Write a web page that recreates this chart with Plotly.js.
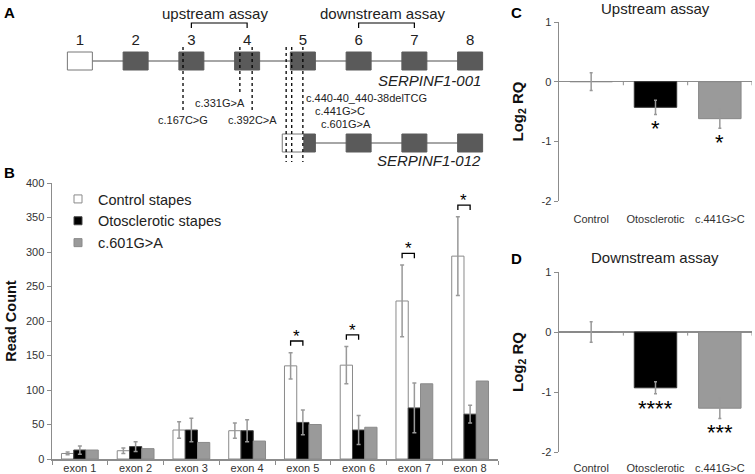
<!DOCTYPE html>
<html><head><meta charset="utf-8">
<script src="https://cdn.plot.ly/plotly-3.0.1.min.js"></script>
<style>html,body{margin:0;padding:0;background:#fff}</style>
</head><body><div id="chart" style="width:755px;height:474px"></div>
<script>
// ---------------- data ----------------
// Panel B: RNA-seq read counts per exon
const exonNames = ['exon 1','exon 2','exon 3','exon 4','exon 5','exon 6','exon 7','exon 8'];
const controlCounts = [8, 12, 42, 41, 135, 136, 229, 294];
const controlErr    = [2, 4, 12, 11, 19, 27, 52, 57];
const otoCounts     = [13, 18, 42, 41, 53, 42, 74, 65];
const otoErr        = [6, 7, 17, 16, 18, 21, 36, 13];
const mutCounts     = [13, 15, 24, 26, 50, 46, 109, 113];
const exonSig       = ['', '', '', '', '*', '*', '*', '*'];
const seriesNames   = ['Control stapes', 'Otosclerotic stapes', 'c.601G>A'];

// Panels C and D: qPCR log2 RQ
const groups   = ['Control', 'Otosclerotic', 'c.441G>C'];
const upRQ     = [0, -0.43, -0.62];
const upErr    = [0.15, 0.12, 0.16];
const upSig    = ['', '*', '*'];
const downRQ   = [0, -0.93, -1.27];
const downErr  = [0.17, 0.10, 0.17];
const downSig  = ['', '****', '***'];

// Panel A: gene schematic
const exonLabels   = ['1','2','3','4','5','6','7','8'];
const variantNames = ['c.167C>G','c.331G>A','c.392C>A','c.440-40_440-38delTCG','c.441G>C','c.601G>A'];
const variantPos   = [1.85, 2.87, 3.09, 3.70, 3.80, 4.00]; // in exon-index units

// ---------------- layout helpers ----------------
const W = 755, H = 474;
const fx = p => p / W;
const fy = p => 1 - p / H;
const FONT = 'Liberation Sans, Arial, sans-serif';
const AX = '#8c8c8c';
const TXT = '#222';
const idx = exonNames.map((_, i) => i);

const traces = [];

// ----- Panel B bars -----
const barColors = ['#ffffff', '#000000', '#9a9a9a'];
const barLines = ['#8a8a8a', '#444', '#8a8a8a'];
const barVals = [controlCounts, otoCounts, mutCounts];
const barErrs = [controlErr, otoErr, null];
for (let s = 0; s < 3; s++) {
  const t = {
    type: 'bar', x: idx, y: barVals[s], name: seriesNames[s],
    xaxis: 'x', yaxis: 'y', showlegend: false,
    marker: {color: barColors[s], line: {color: barLines[s], width: 1}}
  };
  if (barErrs[s]) t.error_y = {type: 'data', array: barErrs[s], visible: true, color: '#999', thickness: 1.5, width: 2};
  traces.push(t);
}
// legend entries (small squares)
for (let s = 0; s < 3; s++) {
  traces.push({
    type: 'scatter', mode: 'markers', x: [null], y: [null], name: seriesNames[s],
    xaxis: 'x', yaxis: 'y',
    marker: {symbol: 'square', size: 8, color: barColors[s], line: {color: barLines[s], width: 1}}
  });
}
// significance brackets in B
const barW = (1 - 0.34) / 3;
const bx = [], by = [];
const bracketY = [];
idx.forEach(i => {
  if (!exonSig[i]) return;
  const yb = controlCounts[i] + controlErr[i] + 17;
  bracketY[i] = yb;
  bx.push(i - barW, i - barW, i, i, null);
  by.push(yb - 7, yb, yb, yb - 7, null);
});
traces.push({type: 'scatter', mode: 'lines', x: bx, y: by, xaxis: 'x', yaxis: 'y',
  line: {color: '#000', width: 1.3}, hoverinfo: 'skip', showlegend: false});

// ----- Panels C, D -----
const rqColors = ['#ffffff', '#000000', '#9a9a9a'];
traces.push({type: 'bar', x: [0,1,2], y: upRQ, xaxis: 'x2', yaxis: 'y2', showlegend: false,
  marker: {color: rqColors, line: {color: ['#888','#333','#888'], width: 1}},
  error_y: {type: 'data', array: upErr, visible: true, color: '#999', thickness: 1.5, width: 1.5}});
traces.push({type: 'bar', x: [0,1,2], y: downRQ, xaxis: 'x3', yaxis: 'y3', showlegend: false,
  marker: {color: rqColors, line: {color: ['#888','#333','#888'], width: 1}},
  error_y: {type: 'data', array: downErr, visible: true, color: '#999', thickness: 1.5, width: 1.5}});

// ----- Panel A: exon numbers -----
traces.push({type: 'scatter', mode: 'text', x: idx, y: exonLabels.map(() => 41), text: exonLabels,
  xaxis: 'x4', yaxis: 'y4', textfont: {family: FONT, size: 15, color: TXT}, hoverinfo: 'skip', showlegend: false});

// ---------------- shapes & annotations ----------------
const shapes = [];
const ann = [];
const exHalf = 0.224;
const dark = '#5a5a5a';
// transcript 001
shapes.push({type: 'line', xref: 'x4', yref: 'y4', x0: 0, x1: 7, y0: 61, y1: 61, line: {color: '#888', width: 1.5}});
idx.forEach(i => {
  shapes.push({type: 'rect', xref: 'x4', yref: 'y4', x0: i - exHalf, x1: i + exHalf, y0: 52, y1: 70,
    fillcolor: i === 0 ? '#fff' : dark, line: {color: i === 0 ? '#777' : dark, width: 1}});
});
// transcript 012
shapes.push({type: 'line', xref: 'x4', yref: 'y4', x0: 4, x1: 7, y0: 143, y1: 143, line: {color: '#888', width: 1.5}});
idx.slice(4).forEach(i => {
  if (i === 4) {
    shapes.push({type: 'rect', xref: 'x4', yref: 'y4', x0: 3.63, x1: 4.02, y0: 134, y1: 152,
      fillcolor: '#fff', line: {color: '#777', width: 1}});
    shapes.push({type: 'rect', xref: 'x4', yref: 'y4', x0: 4.02, x1: i + exHalf, y0: 134, y1: 152,
      fillcolor: dark, line: {color: dark, width: 1}});
  } else {
    shapes.push({type: 'rect', xref: 'x4', yref: 'y4', x0: i - exHalf, x1: i + exHalf, y0: 134, y1: 152,
      fillcolor: dark, line: {color: dark, width: 1}});
  }
});
// assay brackets
const assays = [{name: 'upstream assay', a: 2, b: 3}, {name: 'downstream assay', a: 5, b: 6}];
assays.forEach(as => {
  shapes.push({type: 'path', xref: 'x4', yref: 'y4',
    path: `M${as.a},28 L${as.a},23 L${as.b},23 L${as.b},28`, line: {color: '#000', width: 1.2}});
  ann.push({xref: 'x4', yref: 'y4', x: (as.a + as.b) / 2, y: 13, xshift: -4, text: as.name, showarrow: false,
    font: {family: FONT, size: 15, color: TXT}, xanchor: 'center', yanchor: 'middle'});
});
// variant dotted lines + labels
const varBottom = [110, 94, 110, 162, 162, 162];
const varLabel = [
  {xa: 'center', y: 120, dx: 0},
  {xa: 'right', y: 103, dx: 7},
  {xa: 'center', y: 120, dx: 0},
  {xa: 'left', y: 98, dx: 18},
  {xa: 'left', y: 111, dx: 21},
  {xa: 'left', y: 124, dx: 16}
];
variantPos.forEach((p, k) => {
  shapes.push({type: 'line', xref: 'x4', yref: 'y4', x0: p, x1: p, y0: 47, y1: varBottom[k],
    line: {color: '#000', width: 1.3, dash: 'dot'}});
  ann.push({xref: 'x4', yref: 'y4', x: p, y: varLabel[k].y, xshift: varLabel[k].dx, text: variantNames[k],
    showarrow: false, xanchor: varLabel[k].xa, yanchor: 'middle', font: {family: FONT, size: 11, color: TXT}});
});
// transcript names
ann.push({xref: 'x4', yref: 'y4', x: 7 + exHalf, y: 80, text: '<i>SERPINF1-001</i>', showarrow: false,
  xanchor: 'right', yanchor: 'middle', font: {family: FONT, size: 15, color: TXT}});
ann.push({xref: 'x4', yref: 'y4', x: 7 + exHalf, y: 160, text: '<i>SERPINF1-012</i>', showarrow: false,
  xanchor: 'right', yanchor: 'middle', font: {family: FONT, size: 15, color: TXT}});

// B significance stars
idx.forEach(i => {
  if (!exonSig[i]) return;
  ann.push({xref: 'x', yref: 'y', x: i - barW / 2, y: bracketY[i], text: exonSig[i], showarrow: false,
    xanchor: 'center', yanchor: 'bottom', yshift: -7, font: {family: FONT, size: 17, color: '#000'}});
});
// C/D stars
[[upRQ, upErr, upSig, 'x2', 'y2'], [downRQ, downErr, downSig, 'x3', 'y3']].forEach(([v, e, s, xr, yr]) => {
  s.forEach((txt, i) => {
    if (!txt) return;
    ann.push({xref: xr, yref: yr, x: i, y: v[i] - e[i], text: txt, showarrow: false,
      xanchor: 'center', yanchor: 'top', font: {family: FONT, size: 22, color: '#000'}});
  });
  // small tick marks on zero line at category boundaries
  [0.5, 1.5, 2.5].forEach(b => {
    shapes.push({type: 'line', xref: xr, yref: yr, x0: b, x1: b, y0: 0, y1: -0.06, line: {color: AX, width: 1}});
  });
});
// panel letters and titles
const letters = [['A', 9, 12], ['B', 9, 172], ['C', 516, 12], ['D', 516, 258]];
letters.forEach(([t, x, y]) => ann.push({xref: 'paper', yref: 'paper', x: fx(x), y: fy(y), text: '<b>' + t + '</b>',
  showarrow: false, xanchor: 'center', yanchor: 'middle', font: {family: FONT, size: 15, color: '#000'}}));
ann.push({xref: 'paper', yref: 'paper', x: fx(655), y: fy(9), text: 'Upstream assay', showarrow: false,
  xanchor: 'center', yanchor: 'middle', font: {family: FONT, size: 15, color: TXT}});
ann.push({xref: 'paper', yref: 'paper', x: fx(655), y: fy(257), text: 'Downstream assay', showarrow: false,
  xanchor: 'center', yanchor: 'middle', font: {family: FONT, size: 15, color: TXT}});

// ---------------- axes ----------------
const tickFont = {family: FONT, size: 11, color: '#333'};
const rqTicks = {tickvals: [1, 0, -1, -2], ticktext: ['1', '0', '-1', '-2']};
function rqY(top, bottom) {
  return {domain: [fy(bottom), fy(top)], range: [-2, 1], tickvals: rqTicks.tickvals, ticktext: rqTicks.ticktext,
    ticks: 'outside', ticklen: 4, tickcolor: AX, showline: true, linecolor: AX, linewidth: 1.5,
    zeroline: true, zerolinecolor: AX, zerolinewidth: 1.5, showgrid: false, tickfont: tickFont, fixedrange: true,
    title: {text: '<b>Log<sub>2</sub> RQ</b>', font: {family: FONT, size: 15, color: '#111'}, standoff: 14}};
}
function rqX(anchor, standoff) {
  return {domain: [fx(559), fx(752)], range: [-0.5, 2.5], anchor: anchor, tickvals: [0, 1, 2], ticktext: groups,
    ticks: '', showline: false, showgrid: false, zeroline: false, tickfont: tickFont, ticklabelstandoff: standoff, fixedrange: true};
}

const layout = {
  width: W, height: H, autosize: false,
  margin: {l: 0, r: 0, t: 0, b: 0},
  paper_bgcolor: '#fff', plot_bgcolor: 'rgba(0,0,0,0)',
  font: {family: FONT, color: TXT},
  barmode: 'group', bargap: 0.34, bargroupgap: 0,
  showlegend: true,
  legend: {x: fx(58), y: fy(183), xanchor: 'left', yanchor: 'top', bgcolor: 'rgba(0,0,0,0)',
    font: {family: FONT, size: 14.5, color: TXT}, tracegroupgap: 0},
  xaxis: {domain: [fx(52), fx(498)], range: [-0.5, 7.5], anchor: 'y', tickvals: idx, ticktext: exonNames,
    ticks: '', showline: true, linecolor: AX, linewidth: 1.5, showgrid: false, zeroline: false, tickfont: tickFont,
    ticklabelstandoff: -2,
    minor: {tickvals: [-0.5, 0.5, 1.5, 2.5, 3.5, 4.5, 5.5, 6.5, 7.5], ticks: 'outside', ticklen: 4, tickcolor: AX, tickwidth: 1, showgrid: false},
    fixedrange: true},
  yaxis: {domain: [fy(459), fy(183)], range: [0, 400], dtick: 50, anchor: 'x', ticks: 'outside', ticklen: 4, tickcolor: AX,
    showline: true, linecolor: AX, linewidth: 1.5, showgrid: false, zeroline: false, tickfont: tickFont, fixedrange: true,
    title: {text: '<b>Read Count</b>', font: {family: FONT, size: 14.5, color: '#111'}, standoff: 6}},
  xaxis2: rqX('y2', 10),
  yaxis2: Object.assign(rqY(22, 201), {anchor: 'x2'}),
  xaxis3: rqX('y3', 8),
  yaxis3: Object.assign(rqY(272, 452), {anchor: 'x3'}),
  xaxis4: {domain: [fx(52), fx(498)], range: [-0.5, 7.5], anchor: 'y4', visible: false, fixedrange: true},
  yaxis4: {domain: [fy(166), 1], range: [166, 0], anchor: 'x4', visible: false, fixedrange: true},
  shapes: shapes,
  annotations: ann
};

Plotly.newPlot('chart', traces, layout, {displayModeBar: false, staticPlot: true});
</script>
</body></html>
